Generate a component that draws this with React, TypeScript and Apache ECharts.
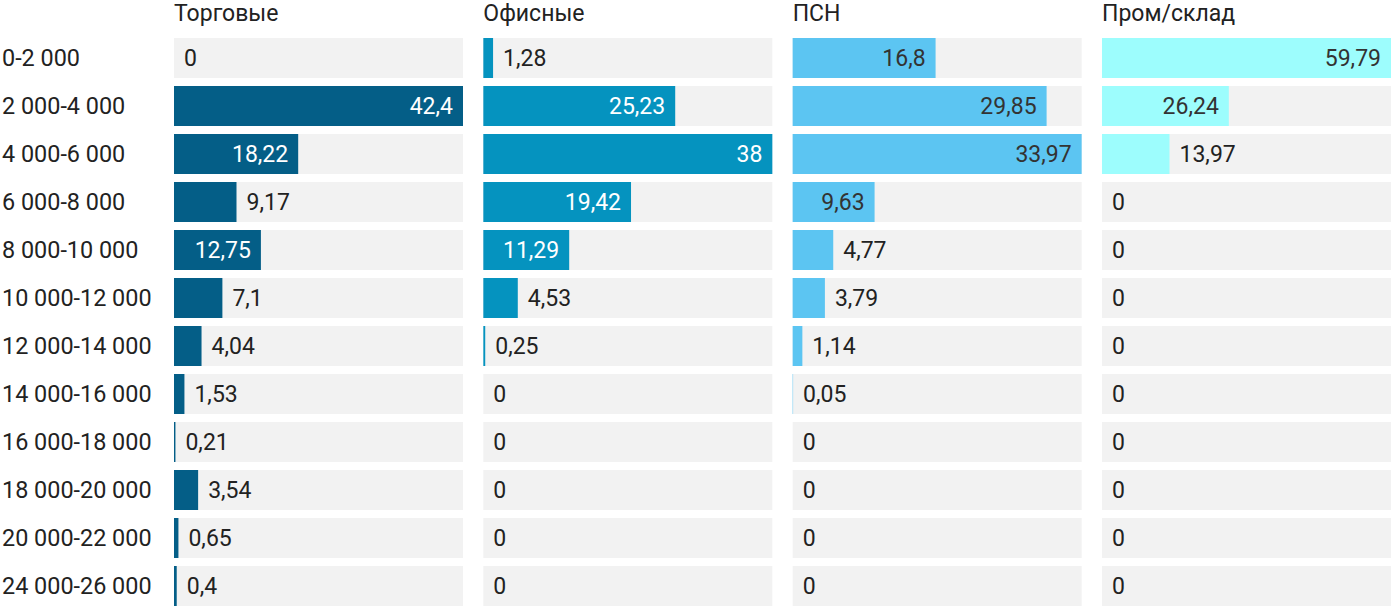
import React, { useEffect, useRef } from "react";
import * as echarts from "echarts";

const categories = [
  "0-2 000",
  "2 000-4 000",
  "4 000-6 000",
  "6 000-8 000",
  "8 000-10 000",
  "10 000-12 000",
  "12 000-14 000",
  "14 000-16 000",
  "16 000-18 000",
  "18 000-20 000",
  "20 000-22 000",
  "24 000-26 000",
];

const panelTitles = ["Торговые", "Офисные", "ПСН", "Пром/склад"];

const torgovye = [0, 42.4, 18.22, 9.17, 12.75, 7.1, 4.04, 1.53, 0.21, 3.54, 0.65, 0.4];
const ofisnye = [1.28, 25.23, 38, 19.42, 11.29, 4.53, 0.25, 0, 0, 0, 0, 0];
const psn = [16.8, 29.85, 33.97, 9.63, 4.77, 3.79, 1.14, 0.05, 0, 0, 0, 0];
const promSklad = [59.79, 26.24, 13.97, 0, 0, 0, 0, 0, 0, 0, 0, 0];

const seriesValues = [torgovye, ofisnye, psn, promSklad];
const barColors = ["#045e87", "#0593bf", "#5cc5f2", "#9dfdfd"];
const insideLabelColors = ["#ffffff", "#ffffff", "#333333", "#333333"];

const FONT_SIZE = 23;
const CAT_FONT_SIZE = 23.4;
const FONT = "Roboto";
const TEXT_COLOR = "#222222";
const PANEL_LEFT0 = 174;
const PANEL_PITCH = 309.33;
const PANEL_WIDTH = 289;
const LABEL_DIST = 10;

const fmt = (v: number) => String(v).replace(".", ",");

export default function App() {
  const ref = useRef<HTMLDivElement>(null);

  useEffect(() => {
    if (!ref.current) return;
    const chart = echarts.init(ref.current, undefined, { renderer: "svg" });

    const canvas = document.createElement("canvas");
    const ctx = canvas.getContext("2d");
    if (ctx) ctx.font = `${FONT_SIZE}px ${FONT}`;
    const measure = (s: string) => (ctx ? ctx.measureText(s).width : s.length * 12);

    const grids: any[] = [];
    const xAxes: any[] = [];
    const yAxes: any[] = [];
    const series: any[] = [];
    const graphics: any[] = [];

    seriesValues.forEach((vals, i) => {
      const left = PANEL_LEFT0 + i * PANEL_PITCH;
      const max = Math.max(...vals);
      grids.push({
        left,
        width: PANEL_WIDTH,
        top: 34,
        height: 576,
        containLabel: false,
        outerBoundsMode: "none",
      });
      xAxes.push({
        type: "value",
        gridIndex: i,
        min: 0,
        max,
        show: false,
      });
      yAxes.push({
        type: "category",
        gridIndex: i,
        data: categories,
        inverse: true,
        axisLine: { show: false },
        axisTick: { show: false },
        splitLine: { show: false },
        axisLabel: {
          show: i === 0,
          align: "left",
          margin: PANEL_LEFT0 - 2,
          fontSize: CAT_FONT_SIZE,
          fontFamily: FONT,
          color: TEXT_COLOR,
        },
      });
      series.push({
        type: "bar",
        xAxisIndex: i,
        yAxisIndex: i,
        barWidth: 40,
        showBackground: true,
        backgroundStyle: { color: "#f2f2f2" },
        itemStyle: { color: barColors[i] },
        data: vals.map((v) => {
          const px = (v / max) * PANEL_WIDTH;
          const txt = fmt(v);
          const inside = px >= measure(txt) + 2 * LABEL_DIST + 4;
          return {
            value: v,
            label: {
              show: true,
              position: inside ? "insideRight" : "right",
              distance: LABEL_DIST,
              color: inside ? insideLabelColors[i] : TEXT_COLOR,
              fontSize: FONT_SIZE,
              fontFamily: FONT,
              formatter: () => txt,
            },
          };
        }),
      });
      graphics.push({
        type: "text",
        left: left,
        top: 2,
        style: {
          text: panelTitles[i],
          fontSize: FONT_SIZE,
          fontFamily: FONT,
          fill: TEXT_COLOR,
        },
      });
    });

    chart.setOption({
      animation: false,
      backgroundColor: "#ffffff",
      grid: grids,
      xAxis: xAxes,
      yAxis: yAxes,
      series,
      graphic: graphics,
    });

    return () => chart.dispose();
  }, []);

  return (
    <div style={{ position: "absolute", left: 0, top: 0, width: 1400, height: 606, overflow: "hidden" }}>
      <div ref={ref} style={{ width: 1400, height: 612 }} />
    </div>
  );
}
